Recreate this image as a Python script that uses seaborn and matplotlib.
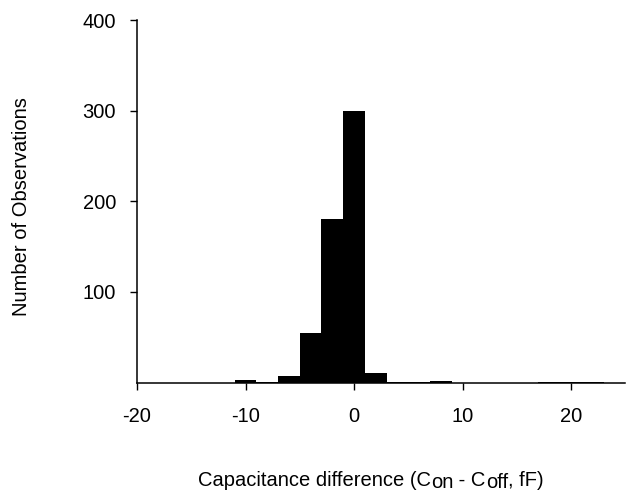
import numpy as np
import pandas as pd
import matplotlib
matplotlib.use('Agg')
import matplotlib.pyplot as plt
import seaborn as sns

# --- Data (2 fF bins centred on even values) ---
bin_centers = [-20, -18, -16, -14, -12, -10, -8, -6, -4, -2, 0, 2, 4, 6, 8, 10, 12, 14, 16, 18, 20, 22, 24]
counts      = [  0,   0,   0,   0,   0,   3,  1,  7, 55, 180, 300, 10, 1, 1, 2, 0, 0, 0, 0, 1, 1, 1, 0]
bin_edges = [-21 + 2 * i for i in range(len(bin_centers) + 1)]

x_ticks = [-20, -10, 0, 10, 20]
y_ticks = [100, 200, 300, 400]

# x label pieces: (text, vertical shift in points relative to previous piece)
xlabel_parts = [('Capacitance difference (C', 0), ('on', -1.6), (' - C', 1.6),
                ('off', -1.6), (', fF)', 1.6)]

df = pd.DataFrame({'diff': bin_centers, 'n': counts})

# --- Style ---
sns.set_style('ticks')
plt.rcParams['font.family'] = ['Liberation Sans', 'DejaVu Sans']
plt.rcParams['axes.unicode_minus'] = False
for key in ['text.color', 'xtick.color', 'ytick.color', 'axes.labelcolor', 'axes.edgecolor']:
    plt.rcParams[key] = 'black'

FS = 14.5

fig = plt.figure(figsize=(6.26, 4.93), dpi=100)
ax = fig.add_axes([137 / 626, 110.5 / 493, 488.3 / 626, 362.5 / 493])

sns.histplot(data=df, x='diff', weights='n', bins=bin_edges, ax=ax,
             color='black', edgecolor='black', linewidth=0, alpha=1)

ax.set_xlim(-20, 25)
ax.set_ylim(0, 400)
ax.set_xticks(x_ticks)
ax.set_yticks(y_ticks)
ax.tick_params(axis='x', labelsize=FS, length=5, width=1, pad=13)
ax.tick_params(axis='y', labelsize=FS, length=5, width=1, pad=10)
ax.set_xlabel('')
ax.set_ylabel('')

sns.despine(ax=ax)
for side in ['left', 'bottom']:
    ax.spines[side].set_linewidth(1.1)

# y label
fig.text(22 / 626, 1 - 207 / 493, 'Number of Observations', rotation=90,
         ha='center', va='center', fontsize=FS)

# x label built from pieces so the subscripts stay full size, just lowered
prev = fig.text(198 / 626, 1 - 486 / 493, xlabel_parts[0][0],
                ha='left', va='baseline', fontsize=FS)
for txt, dy in xlabel_parts[1:]:
    prev = ax.annotate(txt, xy=(1, 0), xycoords=prev, xytext=(0, dy),
                       textcoords='offset points', ha='left', va='bottom',
                       fontsize=FS, annotation_clip=False)

fig.savefig('out.png', dpi=100)
